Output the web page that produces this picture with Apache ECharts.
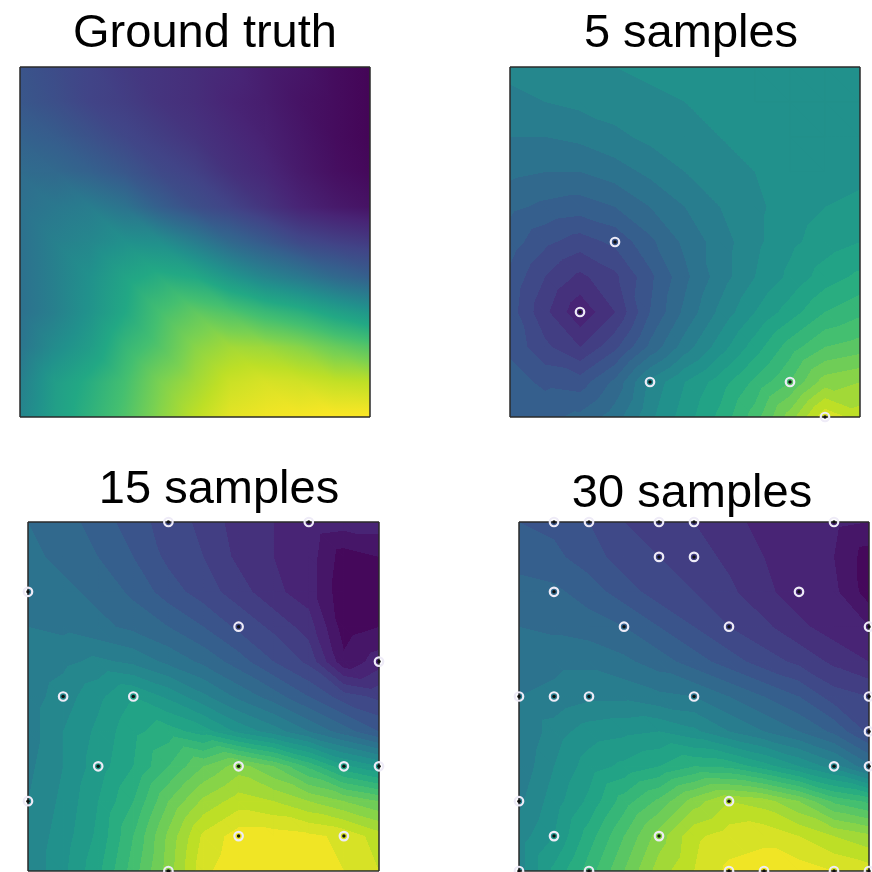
<!DOCTYPE html>
<html>
<head>
<meta charset="utf-8">
<script src="https://cdn.jsdelivr.net/npm/echarts@6/dist/echarts.min.js"></script>
<style>
html,body{margin:0;padding:0;background:#ffffff;}
#chart{width:872px;height:872px;}
</style>
</head>
<body>
<div id="chart"></div>
<script>
// ---------------- DATA ----------------
const panelTitles = ['Ground truth', '5 samples', '15 samples', '30 samples'];

// values on the 11 x 11 sample grid (row = y from top 0..10, column = x 0..10), colour scale 0..1
const truthValues = [
  [0.26,0.23,0.20,0.17,0.15,0.13,0.11,0.08,0.06,0.03,0.01],
  [0.27,0.24,0.20,0.18,0.15,0.13,0.10,0.08,0.05,0.03,0.01],
  [0.31,0.29,0.25,0.21,0.18,0.15,0.12,0.09,0.06,0.03,0.01],
  [0.35,0.34,0.31,0.27,0.22,0.19,0.14,0.11,0.07,0.04,0.02],
  [0.37,0.40,0.42,0.38,0.30,0.24,0.20,0.15,0.10,0.07,0.05],
  [0.37,0.43,0.46,0.50,0.49,0.42,0.34,0.28,0.22,0.19,0.17],
  [0.37,0.43,0.50,0.58,0.62,0.60,0.52,0.45,0.40,0.34,0.30],
  [0.37,0.43,0.51,0.60,0.70,0.75,0.72,0.67,0.63,0.57,0.52],
  [0.39,0.48,0.55,0.66,0.73,0.82,0.86,0.85,0.82,0.77,0.73],
  [0.43,0.55,0.62,0.70,0.80,0.86,0.92,0.94,0.93,0.91,0.90],
  [0.45,0.56,0.64,0.72,0.82,0.90,0.96,0.98,0.99,1.00,1.00]
];

const fit5Values = [
  [0.45,0.46,0.47,0.48,0.49,0.50,0.50,0.50,0.50,0.50,0.50],
  [0.43,0.44,0.45,0.46,0.47,0.48,0.49,0.50,0.50,0.50,0.50],
  [0.40,0.40,0.41,0.43,0.45,0.46,0.48,0.49,0.50,0.50,0.50],
  [0.37,0.36,0.36,0.38,0.41,0.44,0.46,0.48,0.50,0.50,0.51],
  [0.33,0.31,0.30,0.32,0.36,0.40,0.44,0.47,0.50,0.52,0.53],
  [0.30,0.25,0.22,0.25,0.31,0.37,0.42,0.47,0.51,0.54,0.56],
  [0.27,0.20,0.15,0.19,0.27,0.35,0.42,0.48,0.53,0.58,0.61],
  [0.26,0.17,0.09,0.16,0.28,0.37,0.45,0.52,0.58,0.64,0.67],
  [0.27,0.21,0.16,0.23,0.33,0.42,0.50,0.58,0.66,0.72,0.74],
  [0.30,0.27,0.26,0.33,0.45,0.52,0.58,0.65,0.72,0.82,0.84],
  [0.32,0.31,0.33,0.38,0.47,0.54,0.61,0.70,0.82,0.95,0.90]
];

const fit15Values = [
  [0.36,0.34,0.30,0.26,0.22,0.19,0.14,0.12,0.11,0.10,0.10],
  [0.37,0.35,0.32,0.28,0.23,0.20,0.15,0.12,0.10,0.02,0.04],
  [0.38,0.37,0.35,0.31,0.26,0.22,0.18,0.13,0.10,0.01,0.03],
  [0.40,0.39,0.37,0.35,0.32,0.28,0.23,0.19,0.14,0.02,0.04],
  [0.41,0.43,0.45,0.43,0.39,0.35,0.30,0.24,0.19,0.05,0.10],
  [0.42,0.46,0.51,0.56,0.51,0.45,0.39,0.34,0.28,0.22,0.19],
  [0.42,0.48,0.53,0.59,0.62,0.58,0.51,0.46,0.40,0.34,0.28],
  [0.43,0.48,0.54,0.60,0.68,0.76,0.82,0.76,0.67,0.57,0.52],
  [0.44,0.49,0.56,0.64,0.76,0.85,0.90,0.88,0.84,0.80,0.76],
  [0.45,0.50,0.57,0.68,0.81,0.93,0.98,0.98,0.97,0.95,0.90],
  [0.45,0.51,0.59,0.70,0.82,0.95,0.99,0.99,0.98,0.96,0.92]
];

const fit30Values = [
  [0.28,0.27,0.24,0.20,0.18,0.16,0.13,0.11,0.10,0.09,0.08],
  [0.30,0.29,0.26,0.22,0.20,0.18,0.15,0.12,0.10,0.08,0.02],
  [0.34,0.33,0.30,0.26,0.22,0.20,0.17,0.13,0.10,0.09,0.02],
  [0.36,0.35,0.34,0.32,0.28,0.24,0.20,0.17,0.13,0.10,0.08],
  [0.38,0.39,0.39,0.37,0.34,0.30,0.26,0.22,0.19,0.15,0.12],
  [0.40,0.41,0.43,0.43,0.41,0.40,0.36,0.32,0.28,0.22,0.20],
  [0.40,0.46,0.50,0.51,0.52,0.49,0.44,0.40,0.36,0.31,0.23],
  [0.41,0.48,0.54,0.57,0.60,0.64,0.63,0.58,0.52,0.46,0.37],
  [0.43,0.50,0.57,0.66,0.73,0.82,0.88,0.86,0.80,0.71,0.67],
  [0.46,0.52,0.62,0.72,0.82,0.91,0.94,0.95,0.92,0.88,0.85],
  [0.46,0.57,0.66,0.76,0.86,0.92,0.97,0.98,0.98,0.96,0.94]
];

const samples5 = [[3,5],[2,7],[4,9],[8,9],[9,10]];
const samples15 = [[4,0],[8,0],[0,2],[6,3],[10,4],[1,5],[3,5],[2,7],[6,7],[9,7],[10,7],[0,8],[6,9],[9,9],[4,10]];
const samples30 = [[1,0],[2,0],[4,0],[5,0],[9,0],[4,1],[5,1],[1,2],[8,2],[3,3],[6,3],[10,3],
  [0,5],[1,5],[2,5],[5,5],[10,5],[10,6],[9,7],[10,7],[0,8],[6,8],[1,9],[4,9],
  [0,10],[2,10],[6,10],[7,10],[9,10],[10,10]];

// ---------------- COLOUR MAP ----------------
const viridisStops = ['#440154','#482475','#414487','#355f8d','#2a788e','#21918c','#22a884','#44bf70','#7ad151','#bddf26','#fde725'];
const viridisRGB = viridisStops.map(h => [parseInt(h.substr(1,2),16), parseInt(h.substr(3,2),16), parseInt(h.substr(5,2),16)]);
function cmap(t) {
  t = Math.max(0, Math.min(1, t));
  const pos = t * (viridisRGB.length - 1);
  const k = Math.min(viridisRGB.length - 2, Math.floor(pos));
  const f = pos - k;
  const a = viridisRGB[k], b = viridisRGB[k + 1];
  return 'rgb(' + Math.round(a[0] + (b[0]-a[0])*f) + ',' + Math.round(a[1] + (b[1]-a[1])*f) + ',' + Math.round(a[2] + (b[2]-a[2])*f) + ')';
}
const LEVEL_COUNT = 25;
function bandIndex(v) { return Math.max(0, Math.min(LEVEL_COUNT - 1, Math.floor(v * LEVEL_COUNT + 1e-9))); }
function bandColor(k) { return cmap((k + 0.5) / LEVEL_COUNT); }
function solidColor(v, mode) { return mode === 'smooth' ? cmap(v) : bandColor(bandIndex(v)); }

function triangleFill(P, V, mode) {
  let vmin = Math.min(V[0], V[1], V[2]), vmax = Math.max(V[0], V[1], V[2]);
  if (vmax - vmin < 1e-6) return solidColor(vmin, mode);
  const e1x = P[1][0]-P[0][0], e1y = P[1][1]-P[0][1];
  const e2x = P[2][0]-P[0][0], e2y = P[2][1]-P[0][1];
  const d1 = V[1]-V[0], d2 = V[2]-V[0];
  const det = e1x*e2y - e1y*e2x;
  const gb = (d1*e2y - d2*e1y) / det;
  const gc = (e1x*d2 - e2x*d1) / det;
  const g2 = gb*gb + gc*gc;
  const imin = V.indexOf(vmin);
  const sx = P[imin][0], sy = P[imin][1];
  const ex = sx + (vmax - vmin) * gb / g2, ey = sy + (vmax - vmin) * gc / g2;
  const stops = [];
  if (mode === 'smooth') {
    stops.push({offset: 0, color: cmap(vmin)});
    for (let k = 1; k < viridisRGB.length - 1; k++) {
      const kv = k / (viridisRGB.length - 1);
      if (kv > vmin && kv < vmax) stops.push({offset: (kv - vmin) / (vmax - vmin), color: cmap(kv)});
    }
    stops.push({offset: 1, color: cmap(vmax)});
  } else {
    const b0 = bandIndex(vmin), b1 = bandIndex(vmax);
    stops.push({offset: 0, color: bandColor(b0)});
    for (let k = b0 + 1; k <= b1; k++) {
      const lv = k / LEVEL_COUNT;
      const o = (lv - vmin) / (vmax - vmin);
      stops.push({offset: o, color: bandColor(k - 1)});
      stops.push({offset: o, color: bandColor(k)});
    }
    stops.push({offset: 1, color: bandColor(b1)});
  }
  return {type: 'linear', x: sx, y: sy, x2: ex, y2: ey, global: true, colorStops: stops};
}

function cellData(values) {
  const out = [];
  for (let j = 0; j < values.length - 1; j++) {
    for (let i = 0; i < values[j].length - 1; i++) {
      out.push([i, j, values[j][i], values[j][i+1], values[j+1][i], values[j+1][i+1]]);
    }
  }
  return out;
}

function cellCorners(api) {
  const i = api.value(0), j = api.value(1);
  return {
    v: [api.value(2), api.value(3), api.value(4), api.value(5)],
    p00: api.coord([i, j]), p10: api.coord([i+1, j]), p01: api.coord([i, j+1]), p11: api.coord([i+1, j+1])
  };
}

function makeBaseRender(mode) {
  return function (params, api) {
    const c = cellCorners(api);
    const x0 = Math.min(c.p00[0], c.p11[0]), y0 = Math.min(c.p00[1], c.p11[1]);
    const w = Math.abs(c.p11[0] - c.p00[0]), h = Math.abs(c.p11[1] - c.p00[1]);
    const avg = (c.v[0] + c.v[1] + c.v[2] + c.v[3]) / 4;
    return {type: 'rect', shape: {x: x0 - 0.5, y: y0 - 0.5, width: w + 1, height: h + 1}, style: {fill: solidColor(avg, mode)}};
  };
}

function makeRender(mode) {
  return function (params, api) {
    const c = cellCorners(api);
    const f1 = triangleFill([c.p00, c.p10, c.p11], [c.v[0], c.v[1], c.v[3]], mode);
    const f2 = triangleFill([c.p00, c.p11, c.p01], [c.v[0], c.v[3], c.v[2]], mode);
    const lw = mode === 'smooth' ? 0.9 : 0.6;
    return {
      type: 'group',
      children: [
        {type: 'polygon', shape: {points: [c.p00, c.p10, c.p11]}, style: {fill: f1, stroke: f1, lineWidth: lw}},
        {type: 'polygon', shape: {points: [c.p00, c.p11, c.p01]}, style: {fill: f2, stroke: f2, lineWidth: lw}}
      ]
    };
  };
}

// ---------------- LAYOUT ----------------
const layout = {
  grids: [
    {left: 20, top: 67, width: 350, height: 350},
    {left: 510, top: 67, width: 350, height: 350},
    {left: 28, top: 522, width: 351, height: 349},
    {left: 519, top: 522, width: 350, height: 349}
  ],
  titles: [
    {x: 200, y: 6},
    {x: 686, y: 6},
    {x: 214, y: 462},
    {x: 687, y: 466}
  ]
};

const fields = [truthValues, fit5Values, fit15Values, fit30Values];
const modes = ['smooth', 'bands', 'bands', 'bands'];
const sampleSets = [null, samples5, samples15, samples30];

const axisCommon = {
  type: 'value', min: 0, max: 10, interval: 10,
  axisLine: {show: false}, axisTick: {show: false}, axisLabel: {show: false},
  splitLine: {show: true, lineStyle: {color: '#2a2a2a', width: 1.5}},
  z: 5
};

const series = [];
fields.forEach((f, k) => {
  const cells = cellData(f);
  series.push({
    type: 'custom', xAxisIndex: k, yAxisIndex: k,
    renderItem: makeBaseRender(modes[k]),
    data: cells, silent: true, z: 0, clip: true
  });
  series.push({
    type: 'custom', xAxisIndex: k, yAxisIndex: k,
    renderItem: makeRender(modes[k]),
    data: cells, silent: true, z: 1, clip: true
  });
  if (sampleSets[k]) {
    series.push({
      type: 'scatter', xAxisIndex: k, yAxisIndex: k, data: sampleSets[k],
      symbol: 'circle', symbolSize: 8.5, clip: true, silent: true, z: 6,
      itemStyle: {color: 'rgba(0,0,0,0)', borderColor: '#eeebf7', borderWidth: 2.2, opacity: 1}
    });
    series.push({
      type: 'scatter', xAxisIndex: k, yAxisIndex: k, data: sampleSets[k],
      symbol: 'circle', symbolSize: 3.5, clip: true, silent: true, z: 7,
      itemStyle: {color: '#111111', opacity: 1}
    });
  }
});

const chart = echarts.init(document.getElementById('chart'), null, {renderer: 'canvas'});
chart.setOption({
  backgroundColor: '#ffffff',
  animation: false,
  title: panelTitles.map((t, k) => ({
    text: t, left: layout.titles[k].x, top: layout.titles[k].y, textAlign: 'center',
    textStyle: {fontFamily: 'Liberation Sans, Arial, sans-serif', fontSize: 47, fontWeight: 'normal', color: '#000000'}
  })),
  grid: layout.grids.map(g => Object.assign({containLabel: false}, g)),
  xAxis: layout.grids.map((g, k) => Object.assign({gridIndex: k}, axisCommon)),
  yAxis: layout.grids.map((g, k) => Object.assign({gridIndex: k, inverse: true}, axisCommon)),
  series: series
});
</script>
</body>
</html>
